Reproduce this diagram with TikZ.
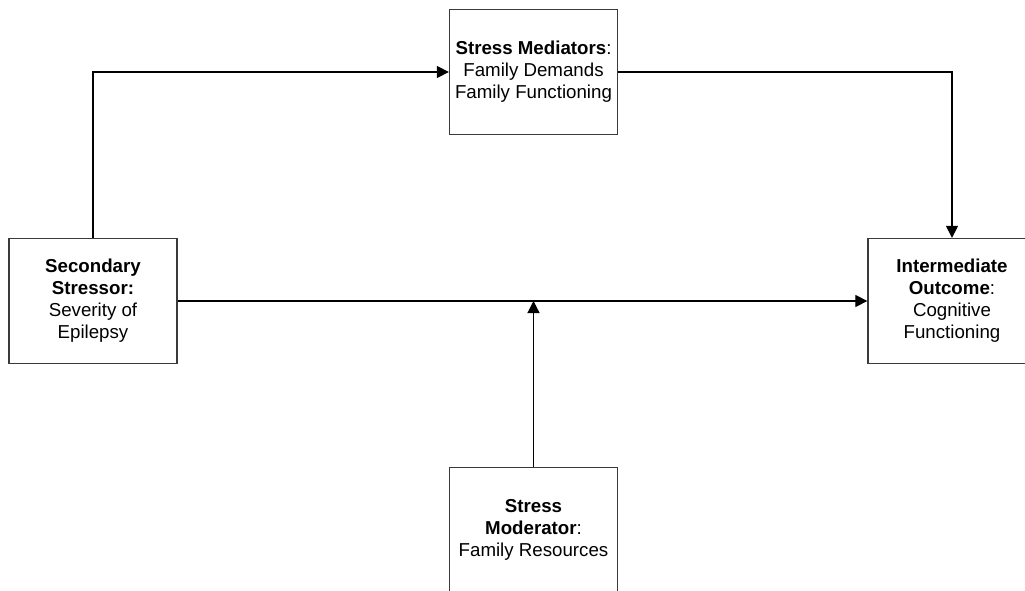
\documentclass[tikz,border=0pt]{standalone}
\usepackage{fontspec}
\setmainfont{Liberation Sans}
\usepackage{tikz}
\usetikzlibrary{arrows.meta}
\definecolor{boxD}{HTML}{3A3A3A}

\begin{document}
\begin{tikzpicture}[x=1pt, y=-1pt,
  stbox/.style={draw=boxD, line width=1.3pt, minimum width=168pt, minimum height=125pt,
    align=center, inner sep=2pt, font=\fontsize{18.7}{22}\selectfont},
  link/.style={line width=1.2pt, draw=black, -{Triangle[length=12pt,width=12pt]}},
  ]
\useasboundingbox (0,0) rectangle (1025,591);
\clip (0,0) rectangle (1025,591);

% === the four boxes
\node[stbox] (mediators) at (533.5,72)
  {\textbf{Stress Mediators}:\\Family Demands\\Family Functioning};
\node[stbox] (stressor) at (93,301)
  {\textbf{Secondary}\\\textbf{Stressor:}\\Severity of\\Epilepsy};
\node[stbox] (outcome) at (952,301)
  {\textbf{Intermediate}\\\textbf{Outcome}:\\Cognitive\\Functioning};
\node[stbox] (moderator) at (533.5,530)
  {\textbf{Stress}\\\textbf{Moderator}:\\Family Resources};

% === paths
\draw[link] (stressor.north) |- (mediators.west);
\draw[link] (mediators.east) -| (outcome.north);
\draw[link] (stressor.east) -- (outcome.west);
\coordinate (join) at (moderator.north |- stressor.east);
\draw[link] (moderator.north) -- (join);

\end{tikzpicture}
\end{document}
